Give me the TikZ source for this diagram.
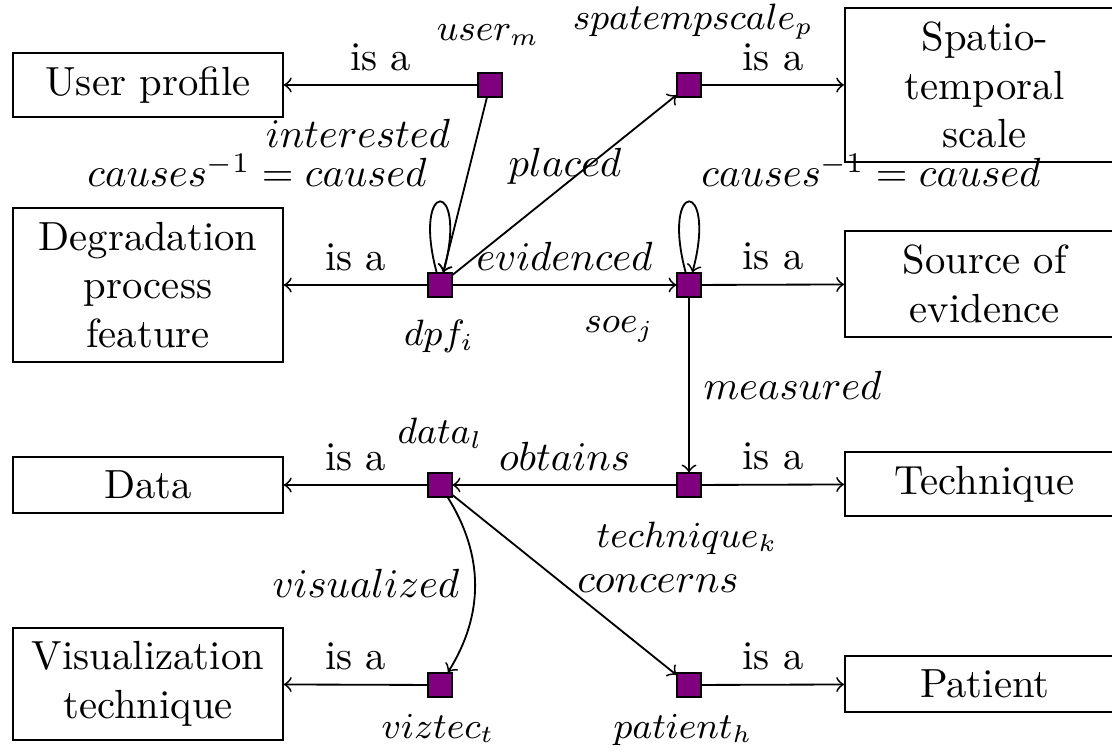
\documentclass[tikz,border=0pt]{standalone}
\definecolor{sqpurple}{RGB}{128,0,128}
\begin{document}
\begin{tikzpicture}[x=0.2457pt,y=-0.2457pt,
  line width=0.45pt,
  sq/.style={draw=black, fill=sqpurple, minimum size=5.7pt, inner sep=0pt, line width=0.5pt},
  cls/.style={draw, text width=59.6pt, align=center, inner sep=3.33pt, line width=0.5pt},
  rcls/.style={cls, text width=62pt, anchor=west},
  lbl/.style={font=\small, anchor=base, inner sep=0pt},
  elbl/.style={anchor=base, inner sep=0pt},
  rel/.style={->},
  every loop/.style={min distance=24pt, looseness=1}]
\useasboundingbox (0,0) rectangle (1112,754);
\clip (0,0) rectangle (1112,754);

% instance squares
\node[sq] (um)  at (490,85)  {};
\node[sq] (sp)  at (689,85)  {};
\node[sq] (dpf) at (440,285) {};
\node[sq] (soe) at (689,285) {};
\node[sq] (dat) at (440,485) {};
\node[sq] (tec) at (689,485) {};
\node[sq] (viz) at (440,685) {};
\node[sq] (pat) at (689,685) {};

% class boxes
\node[cls] (UP)  at (148,85)  {User profile};
\node[cls] (DPF) at (148,285) {Degradation\\process\\feature};
\node[cls] (DA)  at (148,485) {Data};
\node[cls] (VT)  at (148,684) {Visualization\\technique};
\node[rcls] (STS) at (844,85)  {Spatio-\\temporal\\scale};
\node[rcls] (SOE) at (844,284) {Source of\\evidence};
\node[rcls] (TE)  at (844,484) {Technique};
\node[rcls] (PA)  at (844,684) {Patient};

% is-a edges
\draw[rel] (um)  -- node[above] (i1) {is a} (UP);
\draw[rel] (dpf) -- node[above] (i2) {is a} (DPF);
\draw[rel] (dat) -- node[above] (i3) {is a} (DA);
\draw[rel] (viz) -- node[above] (i4) {is a} (VT);
\draw[rel] (sp)  -- node[above] (i5) {is a} (STS);
\draw[rel] (soe) -- node[above] (i6) {is a} (SOE);
\draw[rel] (tec) -- node[above] (i7) {is a} (TE);
\draw[rel] (pat) -- node[above] (i8) {is a} (PA);

% relations
\draw[rel] (um) -- (dpf);
\path (dpf) edge[rel, loop above] (dpf);
\path (soe) edge[rel, loop above] (soe);
\draw[rel] (dpf) -- (sp);
\draw[rel] (dpf) -- node[above] (levid) {$evidenced$} (soe);
\draw[rel] (soe) -- node[right] (lmeas) {$measured$} (tec);
\draw[rel] (tec) -- node[above] (lobt) {$obtains$} (dat);
\draw[rel] (dat) to[bend left=32] (viz);
\draw[rel] (dat) -- (pat);

% relation labels
\node[elbl] (linter) at (358,148) {$interested$};
\node[elbl] (lcausL) at (257,187) {$causes^{-1} = caused$};
\node[elbl] (lcausR) at (871,187) {$causes^{-1} = caused$};
\node[elbl] (lplac)  at (565,177) {$placed$};
\node[elbl] (lvis)   at (366,597) {$visualized$};
\node[elbl] (lconc)  at (658,592) {$concerns$};

% instance labels
\node[lbl] (tum)  at (488,41)  {$user_m$};
\node[lbl] (tsp)  at (693,30)  {$spatempscale_p$};
\node[lbl] (tdpf) at (439,346) {$dpf_i$};
\node[lbl] (tsoe) at (619,333) {$soe_j$};
\node[lbl] (tdat) at (440,444) {$data_l$};
\node[lbl] (ttec) at (687,547) {$technique_k$};
\node[lbl] (tviz) at (438,738) {$viztec_t$};
\node[lbl] (tpat) at (683,738) {$patient_h$};
\end{tikzpicture}
\end{document}
